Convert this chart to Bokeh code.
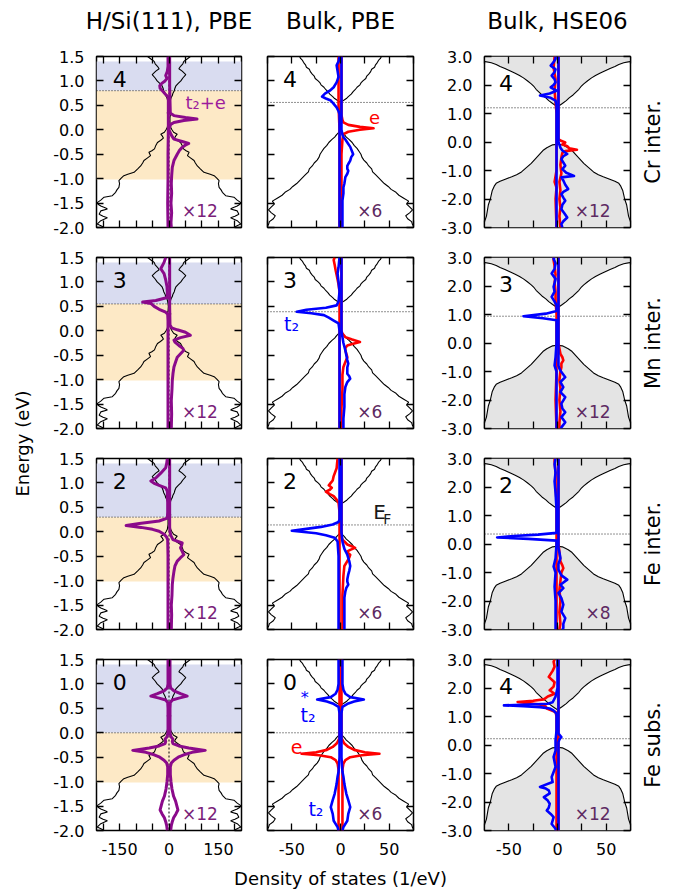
from math import pi
from bokeh.plotting import figure
from bokeh.layouts import row, column
from bokeh.models import (Range1d, FixedTicker, LinearAxis, Label, Span,
                          BoxAnnotation, PrintfTickFormatter)
from bokeh.embed import file_html
from bokeh.resources import INLINE

FONT = "DejaVu Sans"

# ------------------------------------------------------------------ labels
col_titles = ["H/Si(111), PBE", "Bulk, PBE", "Bulk, HSE06"]
row_labels = ["Cr inter.", "Mn inter.", "Fe inter.", "Fe subs."]
panel_numbers = [["4", "4", "4"], ["3", "3", "3"], ["2", "2", "2"], ["0", "0", "4"]]
scale_labels = [["×12", "×6", "×12"], ["×12", "×6", "×12"],
                ["×12", "×6", "×8"], ["×12", "×6", "×12"]]
x_title = "Density of states (1/eV)"
y_title = "Energy (eV)"

# Fermi levels (eV), [row][col]
ef = [[0.80, 0.56, 1.20], [0.55, 0.39, 0.94], [0.30, 0.14, 0.35], [0.00, 0.00, 0.22]]

# H/Si(111) energy windows (shaded)
slab_occ_lo = -1.02
slab_unocc_hi = 1.40

# axes
x_ranges = [(-220, 220), (-75, 75), (-75, 75)]
y_ranges = [(-2.0, 1.5), (-2.0, 1.5), (-3.0, 3.0)]
x_ticks = [[-200, -150, -100, -50, 0, 50, 100, 150, 200],
           [-75, -50, -25, 0, 25, 50, 75],
           [-75, -50, -25, 0, 25, 50, 75]]
x_tick_labels = [[-150, 0, 150], [-50, 0, 50], [-50, 0, 50]]
y_ticks = [[-2.0, -1.5, -1.0, -0.5, 0.0, 0.5, 1.0, 1.5],
           [-2.0, -1.5, -1.0, -0.5, 0.0, 0.5, 1.0, 1.5],
           [-3.0, -2.0, -1.0, 0.0, 1.0, 2.0, 3.0]]

# ------------------------------------------------------------------ host DOS (|DOS|, mirrored)
host_sl_E = [1.5, 1.45, 1.4, 1.35, 1.3, 1.25, 1.2, 1.13, 1.06, 1.0,
             0.95, 0.9, 0.85, 0.8, 0.75, 0.7, 0.65, 0.6, 0.5, 0.4,
             0.35, 0.3, 0.25, 0.15, 0.05, 0.0, -0.05, -0.09, -0.13, -0.17,
             -0.22, -0.26, -0.32, -0.39, -0.43, -0.46, -0.5, -0.53, -0.58, -0.63,
             -0.68, -0.74, -0.8, -0.87, -0.91, -0.94, -0.99, -1.04, -1.1, -1.18,
             -1.23, -1.28, -1.35, -1.38, -1.44, -1.49, -1.53, -1.56, -1.6, -1.62,
             -1.66, -1.73, -1.77, -1.8, -1.86, -1.93, -1.97, -2.0]
host_sl_D = [65, 55, 45, 42, 35, 30, 40, 51, 42, 36,
             28, 21, 18, 16, 12, 10, 6, 4, 2, 3,
             5, 4, 3, 3, 5, 9, 14, 25, 20, 17,
             26, 35, 40, 44, 52, 61, 58, 56, 66, 76,
             80, 86, 95, 106, 125, 137, 145, 152, 150, 152,
             158, 162, 172, 197, 207, 218, 214, 207, 192, 187,
             207, 212, 200, 187, 207, 218, 205, 197]

host_bp_E = [1.5, 1.46, 1.42, 1.38, 1.33, 1.28, 1.24, 1.19, 1.14, 1.1,
             1.05, 1.0, 0.96, 0.92, 0.87, 0.82, 0.78, 0.73, 0.68, 0.64,
             0.6, 0.57, -0.02, -0.06, -0.1, -0.15, -0.2, -0.26, -0.32, -0.38,
             -0.44, -0.5, -0.56, -0.62, -0.68, -0.74, -0.8, -0.86, -0.92, -0.98,
             -1.04, -1.1, -1.16, -1.22, -1.28, -1.34, -1.4, -1.46, -1.52, -1.58,
             -1.64, -1.7, -1.76, -1.82, -1.88, -1.94, -2.0]
host_bp_D = [42, 41, 39, 38, 36, 35, 32, 31, 29, 27,
             26, 23, 21, 20, 17, 15, 13, 11, 8, 6,
             3, 0, 0, 2, 4, 6, 9, 12, 14, 17,
             19, 21, 22, 24, 27, 29, 32, 33, 36, 39,
             42, 45, 49, 52, 57, 60, 65, 70, 68, 71,
             74, 71, 67, 69, 73, 74, 76]

host_bh_E = [3.0, 2.9, 2.85, 2.82, 2.78, 2.72, 2.65, 2.58, 2.5, 2.42,
             2.33, 2.25, 2.15, 2.04, 1.94, 1.85, 1.75, 1.65, 1.55, 1.45,
             1.35, 1.28, 1.24, -0.08, -0.1, -0.2, -0.3, -0.45, -0.6, -0.75,
             -0.9, -1.05, -1.15, -1.22, -1.3, -1.38, -1.45, -1.55, -1.7, -1.85,
             -2.0, -2.2, -2.4, -2.6, -2.8, -3.0]
host_bh_D = [82, 79, 77, 74, 68, 63, 59, 54, 49, 44,
             39, 35, 31, 27, 24, 22, 19, 16, 12, 9,
             5, 2, 0, 0, 5, 11, 15, 19, 23, 27,
             32, 37, 42, 47, 53, 59, 63, 65, 67, 68,
             69, 71, 72, 73, 75, 78]

# ------------------------------------------------------------------ H/Si(111) PBE impurity DOS (x12 shown)
cr_sl_up_E = [1.5, 1.2, 0.9, 0.6, 0.34, 0.29, 0.25, 0.22, 0.19, 0.15, 0.11, 0.06, 0.0, -0.05, -0.12,
              -0.19, -0.24, -0.28, -0.32, -0.36, -0.42, -0.5, -0.63, -0.77, -0.95, -1.1, -1.3, -1.5,
              -1.7, -1.9, -2.0]
cr_sl_up = [2, 2, 2, 3, 4, 15, 50, 85, 45, 15, 5, 2, 0, 3, 8,
            15, 40, 60, 48, 40, 32, 25, 15, 10, 8, 7, 8, 6,
            8, 6, 7]
cr_sl_dn_E = [1.5, 1.3, 1.2, 1.11, 1.05, 1.0, 0.95, 0.9, 0.85, 0.8, 0.72, 0.68, 0.6, 0.3, 0.0,
              -0.5, -1.0, -1.5, -2.0]
cr_sl_dn = [-3, -3, -5, -10, -6, -12, -22, -28, -27, -20, -10, -3, -2, -2, -2, -3, -3, -4, -3]

mn_sl_up_E = [1.5, 1.0, 0.5, 0.12, 0.06, 0.02, -0.03, -0.09, -0.14, -0.19, -0.23, -0.3, -0.36, -0.4,
              -0.47, -0.54, -0.64, -0.74, -0.88, -1.02, -1.2, -1.43, -1.7, -2.0]
mn_sl_up = [2, 2, 2, 3, 8, 25, 50, 65, 35, 15, 18, 30, 42, 45, 35, 25, 20, 15, 12, 10, 9, 7, 8, 7]
mn_sl_dn_E = [1.5, 1.4, 1.27, 1.17, 1.04, 0.9, 0.77, 0.68, 0.62, 0.59, 0.56, 0.5, 0.44, 0.38, 0.34,
              0.2, 0.0, -0.5, -1.0, -1.5, -2.0]
mn_sl_dn = [-10, -15, -25, -15, -10, -6, -5, -5, -40, -80, -55, -45, -30, -10, -4,
            -3, -3, -3, -3, -3, -3]

fe_sl_up_E = [1.5, 1.0, 0.5, 0.1, 0.0, -0.08, -0.16, -0.23, -0.28, -0.33, -0.4, -0.47, -0.53, -0.6,
              -0.7, -0.81, -0.95, -1.08, -1.3, -1.5, -1.7, -2.0]
fe_sl_up = [2, 2, 2, 2, 3, 6, 12, 40, 38, 35, 40, 45, 35, 25, 18, 15, 12, 10, 9, 7, 8, 7]
fe_sl_dn_E = [1.5, 1.4, 1.31, 1.2, 1.1, 1.04, 0.99, 0.95, 0.9, 0.83, 0.6, 0.4, 0.28, 0.22, 0.17,
              0.13, 0.09, 0.05, 0.01, -0.05, -0.1, -0.16, -0.5, -1.0, -1.5, -2.0]
fe_sl_dn = [-5, -7, -10, -25, -40, -55, -45, -30, -10, -5, -4, -4, -5, -30, -90,
            -130, -85, -50, -30, -15, -8, -4, -3, -3, -3, -3]

fs_sl_E = [1.5, 1.0, 0.92, 0.86, 0.8, 0.75, 0.71, 0.67, 0.62, 0.5, 0.2, 0.0, -0.08, -0.13, -0.18,
           -0.22, -0.27, -0.31, -0.34, -0.36, -0.4, -0.45, -0.5, -0.56, -0.62, -0.7, -0.85, -1.0,
           -1.15, -1.3, -1.4, -1.5, -1.58, -1.66, -1.74, -1.82, -1.9, -2.0]
fs_sl = [3, 3, 5, 15, 35, 55, 30, 10, 4, 3, 3, 3, 6, 12, 10,
         12, 30, 60, 90, 110, 70, 45, 28, 15, 7, 4, 4, 6,
         9, 14, 20, 24, 27, 21, 14, 10, 7, 5]

# ------------------------------------------------------------------ bulk PBE impurity DOS (x6), e and t2
cr_bp_e_up_E = [1.5, 0.6, 0.3, 0.2, 0.15, 0.1, 0.06, 0.03, 0.0, -0.04, -0.09, -0.2, -0.5, -1.0, -1.5, -2.0]
cr_bp_e_up = [1, 1, 1, 2, 3, 8, 20, 34, 20, 8, 3, 2, 1, 1, 1, 1]
cr_bp_e_dn_E = [1.5, 1.0, 0.5, 0.0, -0.5, -1.0, -1.5, -2.0]
cr_bp_e_dn = [-2, -2, -2, -1, -1, -1, -1, -1]
cr_bp_t_up_E = [1.5, 0.5, 0.0, -0.1, -0.15, -0.2, -0.26, -0.35, -0.45, -0.5, -0.56, -0.63, -0.7, -0.74,
                -0.8, -0.84, -0.9, -0.97, -1.1, -1.18, -1.3, -1.45, -1.7, -2.0]
cr_bp_t_up = [1, 1, 1, 2, 3, 5, 7, 10, 12, 13, 11, 10, 8, 7, 7, 8, 7, 5, 4, 3, 3, 2, 2, 2]
cr_bp_t_dn_E = [1.5, 1.4, 1.32, 1.2, 1.08, 0.97, 0.87, 0.8, 0.74, 0.68, 0.64, 0.6, 0.53, 0.46, 0.38,
                0.32, 0.0, -1.0, -2.0]
cr_bp_t_dn = [-1, -2, -4, -3, -2, -4, -7, -11, -16, -19, -15, -10, -7, -4, -2, -1, -1, -1, -1]

mn_bp_e_up_E = [1.5, 0.5, 0.0, -0.06, -0.13, -0.18, -0.23, -0.27, -0.3, -0.35, -0.4, -0.47, -0.54,
                -0.64, -0.74, -0.9, -1.2, -1.6, -2.0]
mn_bp_e_up = [1, 1, 1, 2, 5, 12, 20, 12, 7, 5, 5, 6, 7, 5, 3, 2, 2, 1, 1]
mn_bp_e_dn_E = [1.5, 1.45, 1.35, 1.24, 1.15, 1.05, 0.95, 0.8, 0.6, 0.0, -1.0, -2.0]
mn_bp_e_dn = [-6, -7, -6, -5, -4, -3, -2, -1, -1, -1, -1, -1]
mn_bp_t_up_E = [1.5, 0.5, 0.0, -0.13, -0.25, -0.4, -0.5, -0.6, -0.67, -0.75, -0.88, -0.93, -0.98,
                -1.05, -1.15, -1.3, -1.56, -1.8, -2.0]
mn_bp_t_up = [1, 1, 1, 2, 3, 5, 6, 7, 8, 7, 7, 9, 10, 7, 5, 4, 4, 3, 3]
mn_bp_t_dn_E = [1.5, 1.3, 1.17, 1.0, 0.8, 0.6, 0.52, 0.47, 0.43, 0.39, 0.36, 0.32, 0.27, 0.21, 0.15,
                0.0, -1.0, -2.0]
mn_bp_t_dn = [-1, -2, -3, -2, -1, -2, -4, -15, -35, -45, -30, -17, -12, -7, -2, -1, -1, -1]

fe_bp_e_up_E = [1.5, 0.5, 0.0, -0.1, -0.16, -0.22, -0.26, -0.3, -0.33, -0.37, -0.4, -0.44, -0.47,
                -0.53, -0.6, -0.7, -0.9, -1.3, -1.7, -2.0]
fe_bp_e_up = [1, 1, 1, 1, 2, 5, 7, 12, 15, 10, 7, 8, 10, 9, 7, 4, 3, 2, 2, 2]
fe_bp_e_dn_E = [1.5, 1.3, 1.14, 1.05, 1.0, 0.95, 0.9, 0.86, 0.82, 0.77, 0.73, 0.66, 0.59, 0.4, 0.0,
                -1.0, -2.0]
fe_bp_e_dn = [-3, -4, -7, -8, -10, -12, -9, -11, -15, -11, -7, -4, -2, -1, -1, -1, -1]
fe_bp_t_up_E = [1.5, 0.5, 0.0, -0.2, -0.35, -0.47, -0.6, -0.7, -0.8, -0.87, -0.97, -1.02, -1.08,
                -1.15, -1.22, -1.35, -1.49, -1.7, -2.0]
fe_bp_t_up = [1, 1, 1, 2, 4, 7, 9, 10, 9, 8, 7, 7, 8, 6, 5, 4, 4, 4, 4]
fe_bp_t_dn_E = [1.5, 1.0, 0.5, 0.25, 0.2, 0.15, 0.1, 0.06, 0.02, 0.0, -0.03, -0.07, -0.12, -0.2,
                -0.5, -1.0, -1.5, -2.0]
fe_bp_t_dn = [-1, -1, -1, -1, -2, -8, -20, -35, -50, -40, -25, -15, -6, -3, -2, -2, -2, -2]

fs_bp_e_E = [1.5, 0.5, 0.0, -0.1, -0.15, -0.22, -0.29, -0.35, -0.4, -0.43, -0.46, -0.5, -0.56, -0.63,
             -0.75, -1.0, -1.5, -2.0]
fs_bp_e = [1, 1, 1, 1, 2, 4, 8, 14, 25, 40, 22, 10, 5, 3, 2, 2, 2, 2]
fs_bp_t_E = [1.5, 1.2, 1.0, 0.88, 0.8, 0.73, 0.68, 0.64, 0.6, 0.53, 0.4, 0.0, -0.5, -0.8, -0.9,
             -1.05, -1.25, -1.38, -1.52, -1.66, -1.8, -1.93, -2.0]
fs_bp_t = [2, 2, 2, 3, 5, 10, 24, 14, 8, 2, 1, 1, 1, 2, 3, 4, 6, 8, 10, 8, 7, 3, 2]

# ------------------------------------------------------------------ bulk HSE06 impurity DOS, e and t2
cr_bh_e_up_E = [3.0, 2.0, 1.2, 0.1, 0.05, -0.02, -0.08, -0.15, -0.22, -0.27, -0.32, -0.38, -0.54,
                -0.8, -1.1, -1.4, -1.7, -2.0, -2.3, -2.6, -3.0]
cr_bh_e_up = [1, 1, 1, 1, 3, 8, 5, 10, 12, 20, 8, 5, 4, 3, 4, 2, 3, 2, 3, 2, 3]
cr_bh_e_dn_E = [3.0, 2.6, 2.2, 1.8, 1.4, 1.0, 0.0, -1.0, -1.4, -1.6, -2.0, -3.0]
cr_bh_e_dn = [-3, -4, -2, -3, -2, -1, -1, -1, -3, -1, -2, -1]
cr_bh_t_up_E = [3.0, 1.0, 0.0, -0.1, -0.2, -0.3, -0.42, -0.5, -0.6, -0.72, -0.83, -0.95, -1.08,
                -1.19, -1.24, -1.35, -1.5, -1.65, -1.75, -1.83, -1.95, -2.06, -2.2, -2.36, -2.5,
                -2.65, -2.78, -2.88, -3.0]
cr_bh_t_up = [1, 1, 1, 2, 3, 5, 10, 6, 4, 6, 8, 5, 9, 17, 4, 6, 8, 11, 6, 4, 6, 8, 5, 4, 7, 10, 6, 4, 5]
cr_bh_t_dn_E = [3.0, 2.92, 2.8, 2.68, 2.55, 2.45, 2.33, 2.2, 2.1, 2.0, 1.92, 1.8, 1.7, 1.63, 1.55,
                1.45, 1.3, 0.0, -1.0, -2.0, -3.0]
cr_bh_t_dn = [-2, -2, -4, -7, -2, -3, -6, -3, -2, -4, -7, -1, -8, -18, -7, -2, -1, -1, -1, -1, -1]

mn_bh_e_up_E = [3.0, 1.0, 0.0, -0.2, -0.38, -0.5, -0.61, -0.72, -0.85, -1.0, -1.3, -1.6, -2.0,
                -2.4, -2.8, -3.0]
mn_bh_e_up = [1, 1, 1, 2, 3, 5, 6, 4, 4, 3, 2, 3, 2, 3, 2, 2]
mn_bh_e_dn_E = [3.0, 2.9, 2.7, 2.4, 2.1, 1.8, 1.5, 1.0, 0.0, -1.0, -2.0, -3.0]
mn_bh_e_dn = [-4, -4, -3, -2, -3, -2, -2, -1, -1, -1, -2, -1]
mn_bh_t_up_E = [3.0, 1.0, 0.0, -0.14, -0.35, -0.6, -0.79, -0.9, -1.02, -1.2, -1.37, -1.55, -1.72,
                -1.9, -2.13, -2.3, -2.43, -2.6, -2.78, -2.96, -3.0]
mn_bh_t_up = [1, 1, 1, 1, 1, 1, 1, 2, 4, 8, 3, 6, 3, 8, 4, 5, 8, 4, 8, 4, 4]
mn_bh_t_dn_E = [3.0, 2.96, 2.8, 2.6, 2.44, 2.25, 2.1, 1.97, 1.8, 1.62, 1.45, 1.32, 1.12, 1.03, 0.94,
                0.87, 0.8, 0.0, -0.5, -0.79, -1.0, -2.0, -3.0]
mn_bh_t_dn = [-3, -4, -2, -3, -6, -2, -3, -4, -3, -6, -3, -1, -1, -12, -35,
              -15, -1, -1, -2, -3, -1, -1, -1]

fe_bh_e_up_E = [3.0, 1.0, 0.0, -0.3, -0.61, -0.75, -0.85, -1.0, -1.3, -1.6, -2.0, -2.4, -2.8, -3.0]
fe_bh_e_up = [1, 1, 1, 2, 3, 5, 6, 4, 3, 2, 3, 2, 3, 2]
fe_bh_e_dn_E = [3.0, 2.9, 2.5, 2.0, 1.5, 1.0, 0.0, -1.0, -2.0, -3.0]
fe_bh_e_dn = [-3, -3, -2, -2, -1, -1, -1, -1, -1, -1]
fe_bh_t_up_E = [3.0, 1.0, 0.0, -0.14, -0.3, -0.5, -0.7, -0.9, -1.1, -1.25, -1.43, -1.55, -1.72,
                -1.9, -2.13, -2.37, -2.6, -2.8, -2.95, -3.0]
fe_bh_t_up = [1, 1, 1, 1, 2, 3, 1, 1, 4, 10, 3, 6, 1, 4, 6, 4, 8, 6, 6, 5]
fe_bh_t_dn_E = [3.0, 2.8, 2.5, 2.2, 1.8, 1.2, 0.5, 0.39, 0.33, 0.28, 0.23, 0.18, 0.12, 0.0, -0.5,
                -0.79, -1.0, -1.5, -2.0, -3.0]
fe_bh_t_dn = [-2, -3, -2, -3, -2, -1, -1, -1, -20, -45, -62, -30, -1, -1, -2, -4, -2, -3, -2, -2]

fs_bh_e_up_E = [3.0, 2.0, 1.0, 0.0, -1.0, -2.0, -3.0]
fs_bh_e_up = [1, 1, 1, 1, 1, 1, 1]
fs_bh_e_dn_E = [3.0, 2.92, 2.75, 2.6, 2.39, 2.2, 2.05, 1.92, 1.8, 1.7, 1.6, 1.55, 1.51, 1.47, 1.42,
                1.35, 1.28, 1.16, 1.0, 0.0, -1.0, -2.0, -3.0]
fs_bh_e_dn = [-3, -4, -3, -5, -9, -3, -4, -8, -3, -10, -14, -25, -41, -30, -18,
              -12, -11, -2, -1, -1, -1, -1, -1]
fs_bh_t_up_E = [3.0, 1.0, 0.4, 0.28, 0.2, 0.1, 0.0, -1.0, -2.0, -3.0]
fs_bh_t_up = [1, 1, 1, 4, 2, 1, 1, 1, 1, 1]
fs_bh_t_dn_E = [3.0, 2.0, 1.7, 1.5, 1.45, 1.42, 1.39, 1.36, 1.33, 1.28, 1.21, 1.1, 0.5, 0.16, -0.2,
                -0.42, -0.6, -0.77, -0.95, -1.12, -1.3, -1.47, -1.53, -1.59, -1.7, -1.83, -1.95,
                -2.06, -2.2, -2.3, -2.42, -2.53, -2.65, -2.77, -2.94, -3.0]
fs_bh_t_dn = [0, 0, -2, -5, -10, -30, -55, -35, -18, -8, -4, -1, -1, -2, -2,
              -4, -3, -2, -4, -6, -5, -18, -12, -9, -8, -14, -10,
              -8, -9, -11, -7, -4, -5, -6, -2, -2]

# ------------------------------------------------------------------ styling
PURPLE = "#8b0a8b"
RED = "#ff0000"
BLUE = "#0000ff"
SHADE_UNOCC = "#d9dcf0"
SHADE_OCC = "#fde9c6"
HOST_FILL = "#e4e4e4"


def neg(v):
    return [-a for a in v]


host = [(host_sl_E, host_sl_D), (host_bp_E, host_bp_D), (host_bh_E, host_bh_D)]

curves = {
    (0, 0): [(cr_sl_up_E, cr_sl_up, PURPLE), (cr_sl_dn_E, cr_sl_dn, PURPLE)],
    (1, 0): [(mn_sl_up_E, mn_sl_up, PURPLE), (mn_sl_dn_E, mn_sl_dn, PURPLE)],
    (2, 0): [(fe_sl_up_E, fe_sl_up, PURPLE), (fe_sl_dn_E, fe_sl_dn, PURPLE)],
    (3, 0): [(fs_sl_E, fs_sl, PURPLE), (fs_sl_E, neg(fs_sl), PURPLE)],
    (0, 1): [(cr_bp_e_up_E, cr_bp_e_up, RED), (cr_bp_e_dn_E, cr_bp_e_dn, RED),
             (cr_bp_t_up_E, cr_bp_t_up, BLUE), (cr_bp_t_dn_E, cr_bp_t_dn, BLUE)],
    (1, 1): [(mn_bp_e_up_E, mn_bp_e_up, RED), (mn_bp_e_dn_E, mn_bp_e_dn, RED),
             (mn_bp_t_up_E, mn_bp_t_up, BLUE), (mn_bp_t_dn_E, mn_bp_t_dn, BLUE)],
    (2, 1): [(fe_bp_e_up_E, fe_bp_e_up, RED), (fe_bp_e_dn_E, fe_bp_e_dn, RED),
             (fe_bp_t_up_E, fe_bp_t_up, BLUE), (fe_bp_t_dn_E, fe_bp_t_dn, BLUE)],
    (3, 1): [(fs_bp_e_E, fs_bp_e, RED), (fs_bp_e_E, neg(fs_bp_e), RED),
             (fs_bp_t_E, fs_bp_t, BLUE), (fs_bp_t_E, neg(fs_bp_t), BLUE)],
    (0, 2): [(cr_bh_e_up_E, cr_bh_e_up, RED), (cr_bh_e_dn_E, cr_bh_e_dn, RED),
             (cr_bh_t_up_E, cr_bh_t_up, BLUE), (cr_bh_t_dn_E, cr_bh_t_dn, BLUE)],
    (1, 2): [(mn_bh_e_up_E, mn_bh_e_up, RED), (mn_bh_e_dn_E, mn_bh_e_dn, RED),
             (mn_bh_t_up_E, mn_bh_t_up, BLUE), (mn_bh_t_dn_E, mn_bh_t_dn, BLUE)],
    (2, 2): [(fe_bh_e_up_E, fe_bh_e_up, RED), (fe_bh_e_dn_E, fe_bh_e_dn, RED),
             (fe_bh_t_up_E, fe_bh_t_up, BLUE), (fe_bh_t_dn_E, fe_bh_t_dn, BLUE)],
    (3, 2): [(fs_bh_e_up_E, fs_bh_e_up, RED), (fs_bh_e_dn_E, fs_bh_e_dn, RED),
             (fs_bh_t_up_E, fs_bh_t_up, BLUE), (fs_bh_t_dn_E, fs_bh_t_dn, BLUE)],
}

# extra in-panel annotations: (row, col) -> list of (text, x, y, align, color, size)
annotations = {
    (0, 0): [("t₂+e", 50, 0.55, "left", "#9c1c9c", "18px")],
    (0, 1): [("e", 35, 0.26, "center", RED, "18px")],
    (1, 1): [("t₂", -58, 0.14, "left", BLUE, "19px")],
    (2, 1): [("E", 33.6, 0.40, "left", "#1a1a1a", "20px"),
             ("F", 44, 0.26, "left", "#1a1a1a", "14px")],
    (3, 1): [("t₂", -41, 0.37, "left", BLUE, "19px"),
             ("*", -36.7, 0.73, "center", BLUE, "16px"),
             ("e", -51, -0.30, "left", RED, "19px"),
             ("t₂", -33, -1.55, "left", BLUE, "19px")],
}

num_pos = [(-171, 1.03), (-59, 1.03), (-60, 2.06)]
scale_pos = [(148, -1.67), (43, -1.67), (54.5, -2.43)]
scale_color = ["#7a1f7a", "#5e2a62", "#5e2a62"]

FW = [145, 146, 146]
FH = 171
BL = [60, 13, 61]
BR = [13, 10, 10]
BT = [16, 15, 15, 15]
BB = [15, 15, 15, 35]
LEFT_W = 36
RIGHT_W = 40
TOP_H = 40
XLAB_H = 26


def style_axis(ax, labeled):
    ax.axis_line_color = None
    ax.major_tick_in = 7
    ax.major_tick_out = 0
    ax.minor_tick_line_color = None
    ax.major_tick_line_color = "black"
    ax.major_tick_line_width = 1.3
    if labeled:
        ax.major_label_text_font = FONT
        ax.major_label_text_font_size = "16px"
        ax.major_label_text_color = "black"
        ax.major_label_standoff = 12
    else:
        ax.major_label_text_color = None
        ax.major_label_text_font_size = "0px"
        ax.major_label_standoff = 0


def blank_fig(fw, fh, xr, yr, **kw):
    f = figure(frame_width=fw, frame_height=fh, x_range=Range1d(*xr), y_range=Range1d(*yr),
               x_axis_location=None, y_axis_location=None, toolbar_location=None,
               output_backend="svg", outline_line_color=None,
               background_fill_color="white", border_fill_color="white", **kw)
    f.xgrid.visible = False
    f.ygrid.visible = False
    return f


def make_panel(r, c):
    p = figure(frame_width=FW[c], frame_height=FH,
               x_range=Range1d(*x_ranges[c]), y_range=Range1d(*y_ranges[c]),
               x_axis_location=None, y_axis_location=None,
               toolbar_location=None, output_backend="svg",
               min_border_left=BL[c], min_border_right=BR[c],
               min_border_top=BT[r], min_border_bottom=BB[r],
               background_fill_color="white", border_fill_color="white",
               outline_line_color="black", outline_line_width=1.5)
    p.xgrid.visible = False
    p.ygrid.visible = False

    for side in ["below", "above", "left", "right"]:
        ax = LinearAxis()
        if side in ("below", "above"):
            ax.ticker = FixedTicker(ticks=x_ticks[c])
            labeled = side == "below" and r == 3
            if labeled:
                ax.major_label_overrides = {t: ("" if t not in x_tick_labels[c] else str(t))
                                            for t in x_ticks[c]}
        else:
            ax.ticker = FixedTicker(ticks=y_ticks[c])
            labeled = side == "left" and c in (0, 2)
            if labeled:
                ax.formatter = PrintfTickFormatter(format="%.1f")
        style_axis(ax, labeled)
        p.add_layout(ax, side)

    e_f = ef[r][c]
    if c == 0:
        p.add_layout(BoxAnnotation(bottom=e_f, top=slab_unocc_hi, fill_color=SHADE_UNOCC,
                                   fill_alpha=1, line_color=None, level="underlay"))
        p.add_layout(BoxAnnotation(bottom=slab_occ_lo, top=e_f, fill_color=SHADE_OCC,
                                   fill_alpha=1, line_color=None, level="underlay"))
        p.add_layout(Span(location=0, dimension="height", line_color="black",
                          line_width=1, line_dash="2 2", level="underlay"))
    p.add_layout(Span(location=e_f, dimension="width", line_color="#222222",
                      line_width=1, line_dash="1 2", level="underlay"))

    hE, hD = host[c]
    if c == 2:
        p.harea(y=hE, x1=neg(hD), x2=hD, fill_color=HOST_FILL, fill_alpha=1)
    p.line(x=neg(hD), y=hE, line_color="black", line_width=1.1)
    p.line(x=hD, y=hE, line_color="black", line_width=1.1)

    lw = 3.0 if c == 0 else 2.6
    for E, D, col in curves[(r, c)]:
        p.line(x=D, y=E, line_color=col, line_width=lw, line_join="round")

    nx, ny = num_pos[c]
    p.add_layout(Label(x=nx, y=ny, text=panel_numbers[r][c], text_font=FONT,
                       text_font_size="22px", text_align="left", text_baseline="middle",
                       text_color="black"))
    sx, sy = scale_pos[c]
    p.add_layout(Label(x=sx, y=sy, text=scale_labels[r][c], text_font=FONT,
                       text_font_size="17px", text_align="right", text_baseline="middle",
                       text_color=scale_color[c]))
    for txt, x, y, al, colr, size in annotations.get((r, c), []):
        p.add_layout(Label(x=x, y=y, text=txt, text_font=FONT, text_font_size=size,
                           text_align=al, text_baseline="middle", text_color=colr))
    return p


def make_row_label(r):
    f = blank_fig(RIGHT_W, FH, (0, RIGHT_W), (-1, 1),
                  min_border_left=0, min_border_right=0,
                  min_border_top=BT[r], min_border_bottom=BB[r])
    f.add_layout(Label(x=12, y=0, text=row_labels[r], angle=pi / 2,
                       text_font=FONT, text_font_size="21px", text_align="center",
                       text_baseline="middle", text_color="black"))
    return f


grid_w = sum(BL[c] + FW[c] + BR[c] for c in range(3)) + RIGHT_W

# column titles strip
top = blank_fig(grid_w, TOP_H, (0, grid_w), (0, TOP_H), min_border=0)
x0 = 0
for c in range(3):
    cx = x0 + BL[c] + FW[c] / 2
    top.add_layout(Label(x=cx, y=TOP_H - 20, text=col_titles[c], text_font=FONT,
                         text_font_size="23px", text_align="center", text_baseline="middle",
                         text_color="black"))
    x0 += BL[c] + FW[c] + BR[c]

rows = []
for r in range(4):
    rows.append(row(*([make_panel(r, c) for c in range(3)] + [make_row_label(r)])))

xlab = blank_fig(grid_w, XLAB_H, (0, grid_w), (0, XLAB_H), min_border=0)
xlab.add_layout(Label(x=340 - LEFT_W, y=XLAB_H / 2, text=x_title, text_font=FONT,
                      text_font_size="18px", text_align="center", text_baseline="middle",
                      text_color="black"))

total_h = TOP_H + sum(BT[r] + FH + BB[r] for r in range(4)) + XLAB_H
lab = blank_fig(LEFT_W, total_h, (0, LEFT_W), (0, total_h), min_border=0)
lab.add_layout(Label(x=22, y=total_h - 443, text=y_title, angle=pi / 2,
                     text_font=FONT, text_font_size="18px", text_align="center",
                     text_baseline="middle", text_color="black"))

layout = row(lab, column(*([top] + rows + [xlab])))
open("out.html", "w").write(file_html(layout, INLINE))
